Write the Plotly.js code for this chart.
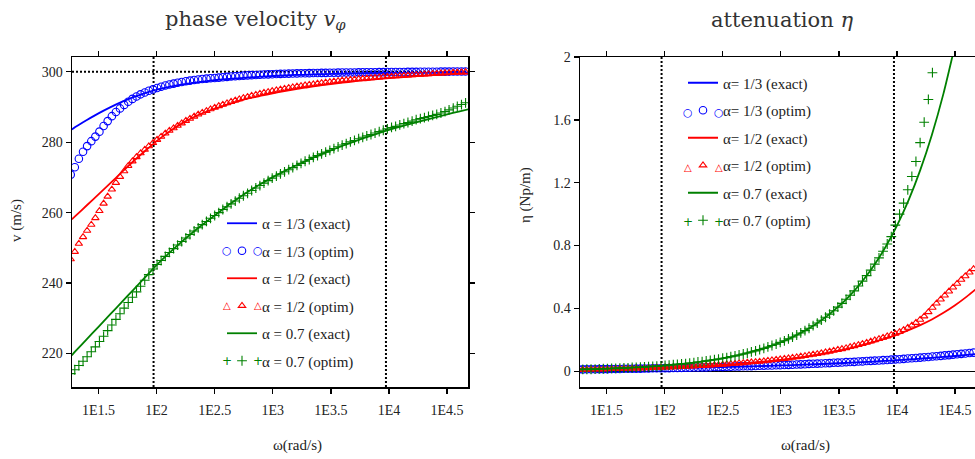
<!DOCTYPE html>
<html>
<head>
<meta charset="utf-8">
<script src="https://cdn.plot.ly/plotly-3.0.1.min.js"></script>
<style>
html, body { margin: 0; padding: 0; overflow: hidden; background: #fff; }
#chart { width: 985px; height: 459px; }
</style>
</head>
<body>
<div id="chart"></div>
<script>
// x positions are log10(omega) (axis labelled 1E1.5 ... 1E4.5)
const lineLogOmega = [1.27,1.3,1.4,1.5,1.6,1.7,1.8,1.9,2.0,2.1,2.2,2.3,2.4,2.5,2.6,2.7,2.8,2.9,3.0,3.1,3.2,3.3,3.4,3.5,3.6,3.7,3.8,3.9,4.0,4.1,4.2,4.3,4.4,4.5,4.6,4.7];
const markerLogOmega = [1.261,1.296,1.331,1.367,1.402,1.438,1.473,1.508,1.544,1.579,
  1.615,1.650,1.685,1.721,1.756,1.792,1.827,1.862,1.898,1.933,
  1.969,2.004,2.039,2.075,2.110,2.146,2.181,2.216,2.252,2.287,
  2.323,2.358,2.393,2.429,2.464,2.500,2.535,2.570,2.606,2.641,
  2.677,2.712,2.747,2.783,2.818,2.854,2.889,2.924,2.960,2.995,
  3.031,3.066,3.101,3.137,3.172,3.208,3.243,3.278,3.314,3.349,
  3.385,3.420,3.455,3.491,3.526,3.562,3.597,3.632,3.668,3.703,
  3.739,3.774,3.809,3.845,3.880,3.916,3.951,3.986,4.022,4.057,
  4.093,4.128,4.163,4.199,4.234,4.270,4.305,4.340,4.376,4.411,
  4.447,4.482,4.517,4.553,4.588,4.624,4.659];

// phase velocity (m/s)
const vExact13 = [283.6,284.3,286.3,288.2,289.9,291.45,292.8,293.95,294.9,295.65,296.3,296.8,297.2,297.6,297.9,298.15,298.4,298.6,298.8,298.95,299.1,299.2,299.3,299.4,299.48,299.54,299.6,299.64,299.68,299.72,299.75,299.78,299.8,299.82,299.84,299.86];
const vExact12 = [258.1,259.0,262.1,265.2,268.3,271.5,274.6,277.5,280.3,282.8,285.0,286.8,288.3,289.5,290.6,291.6,292.5,293.2,293.9,294.5,295.1,295.6,296.1,296.5,296.9,297.3,297.6,297.9,298.2,298.45,298.7,298.9,299.1,299.25,299.4,299.5];
const vExact07 = [219.5,220.6,224.1,227.6,231.1,234.6,238.1,241.6,245.1,248.3,251.3,254.1,256.7,259.2,261.7,264.0,266.2,268.2,270.1,271.8,273.4,274.9,276.35,277.7,279.0,280.2,281.35,282.45,283.5,284.45,285.35,286.2,287.05,287.9,288.7,289.5];
const vOptim13 = [270.8,272.9,275.3,277.3,278.9,280.3,281.6,283.0,284.6,286.0,
  287.4,288.6,289.6,290.6,291.5,292.3,293.0,293.6,294.1,294.6,
  295.0,295.4,295.75,296.1,296.4,296.65,296.9,297.1,297.3,297.5,
  297.65,297.8,297.95,298.05,298.15,298.25,298.35,298.45,298.55,298.65,
  298.75,298.82,298.9,298.97,299.04,299.1,299.16,299.22,299.27,299.32,
  299.36,299.4,299.44,299.48,299.51,299.54,299.57,299.6,299.62,299.64,
  299.66,299.68,299.7,299.72,299.74,299.76,299.78,299.8,299.81,299.82,
  299.84,299.85,299.86,299.88,299.89,299.9,299.91,299.92,299.93,299.94,
  299.95,299.96,299.97,299.98,299.99,300.0,300.0,300.01,300.02,300.03,
  300.04,300.05,300.06,300.07,300.08,300.09,300.1];
const vOptim12 = [246.8,248.9,251.2,253.1,254.9,256.6,258.5,260.5,262.6,264.6,
  266.6,268.5,270.2,271.8,273.3,274.6,275.8,276.9,277.9,278.9,
  279.8,280.7,281.6,282.5,283.3,284.0,284.7,285.4,286.1,286.7,
  287.3,287.9,288.4,288.9,289.4,289.85,290.3,290.7,291.1,291.5,
  291.9,292.25,292.6,292.9,293.2,293.5,293.8,294.05,294.3,294.55,
  294.8,295.0,295.2,295.45,295.65,295.85,296.0,296.2,296.35,296.5,
  296.7,296.85,297.0,297.15,297.3,297.4,297.55,297.65,297.75,297.85,
  297.95,298.05,298.15,298.25,298.35,298.45,298.55,298.6,298.7,298.75,
  298.85,298.9,299.0,299.05,299.15,299.2,299.3,299.35,299.45,299.5,
  299.6,299.65,299.7,299.8,299.85,299.9,299.95];
const vOptim07 = [214.3,215.4,216.6,217.8,219.1,220.5,221.9,223.4,224.9,226.5,
  228.1,229.7,231.3,232.9,234.5,236.0,237.5,239.1,240.8,242.4,
  244.0,245.3,246.4,247.6,248.7,249.8,250.8,251.8,252.8,253.8,
  254.8,255.7,256.6,257.5,258.4,259.2,260.0,260.9,261.7,262.5,
  263.3,264.1,264.8,265.5,266.3,267.0,267.7,268.4,269.1,269.8,
  270.4,271.0,271.6,272.2,272.8,273.4,274.0,274.6,275.1,275.7,
  276.2,276.7,277.2,277.7,278.2,278.7,279.2,279.6,280.1,280.5,
  281.0,281.4,281.8,282.2,282.6,283.0,283.4,283.8,284.2,284.5,
  284.9,285.3,285.6,286.0,286.4,286.7,287.0,287.3,287.6,287.9,
  288.3,288.7,289.2,289.7,290.2,290.7,291.2];

// attenuation (Np/m)
const etaExact13 = [0.0121,0.0124,0.0132,0.0141,0.0150,0.0160,0.0171,0.0182,0.0194,0.0207,0.0221,0.0236,0.0251,0.0268,0.0286,0.0305,0.0325,0.0347,0.0370,0.0395,0.0421,0.0449,0.0479,0.0511,0.0545,0.0581,0.0620,0.0661,0.0705,0.0752,0.0802,0.0855,0.0912,0.0973,0.1038,0.1107];
const etaExact12 = [0.0100,0.0105,0.0120,0.0135,0.0150,0.0170,0.0190,0.0210,0.0235,0.0260,0.0290,0.0330,0.0370,0.0410,0.0460,0.0520,0.0580,0.0650,0.0730,0.0820,0.0920,0.1040,0.1170,0.1320,0.1480,0.1660,0.1860,0.2080,0.2330,0.2620,0.2940,0.3300,0.3720,0.4200,0.4750,0.5350];
const etaExact07 = [0.0114,0.0119,0.0140,0.0165,0.0194,0.0228,0.0267,0.0314,0.0369,0.0434,0.0509,0.0599,0.0703,0.0826,0.0971,0.1141,0.1340,0.1575,0.1850,0.2174,0.2554,0.3000,0.3525,0.4142,0.4866,0.5717,0.6717,0.7892,0.9272,1.089,1.280,1.504,1.767,2.076,null,null];
const etaOptim13 = [0.012,0.012,0.013,0.013,0.013,0.014,0.014,0.014,0.015,0.015,
  0.015,0.016,0.016,0.016,0.017,0.017,0.018,0.018,0.019,0.019,
  0.019,0.020,0.020,0.021,0.021,0.022,0.023,0.023,0.024,0.024,
  0.025,0.025,0.026,0.027,0.027,0.028,0.029,0.029,0.030,0.031,
  0.032,0.032,0.033,0.034,0.035,0.036,0.037,0.037,0.038,0.039,
  0.040,0.041,0.042,0.043,0.044,0.045,0.047,0.048,0.049,0.050,
  0.051,0.052,0.054,0.055,0.056,0.058,0.059,0.060,0.062,0.063,
  0.065,0.066,0.068,0.069,0.071,0.072,0.074,0.076,0.077,0.079,
  0.081,0.083,0.085,0.087,0.089,0.091,0.094,0.096,0.098,0.101,
  0.103,0.106,0.108,0.111,0.113,0.116,0.119];
const etaOptim12 = [0.010,0.011,0.011,0.012,0.012,0.013,0.013,0.014,0.015,0.015,
  0.016,0.016,0.017,0.018,0.019,0.019,0.020,0.021,0.022,0.023,
  0.024,0.025,0.026,0.027,0.027,0.029,0.030,0.031,0.032,0.034,
  0.035,0.037,0.038,0.040,0.041,0.043,0.045,0.047,0.049,0.051,
  0.053,0.056,0.058,0.060,0.062,0.065,0.068,0.071,0.074,0.077,
  0.080,0.083,0.087,0.090,0.094,0.098,0.103,0.107,0.111,0.116,
  0.121,0.126,0.132,0.137,0.142,0.148,0.155,0.161,0.168,0.175,
  0.182,0.190,0.198,0.206,0.214,0.223,0.232,0.240,0.251,0.264,
  0.278,0.292,0.309,0.329,0.350,0.377,0.405,0.432,0.458,0.483,
  0.509,0.534,0.558,0.583,0.606,0.629,0.651];
const etaOptim07 = [0.011,0.012,0.013,0.013,0.014,0.015,0.016,0.017,0.018,0.019,
  0.020,0.021,0.022,0.024,0.025,0.026,0.028,0.030,0.031,0.033,
  0.035,0.037,0.039,0.042,0.044,0.047,0.049,0.052,0.055,0.059,
  0.062,0.066,0.070,0.074,0.078,0.083,0.087,0.093,0.098,0.104,
  0.110,0.116,0.123,0.130,0.138,0.146,0.155,0.164,0.173,0.184,
  0.194,0.206,0.218,0.231,0.244,0.259,0.274,0.290,0.307,0.325,
  0.344,0.364,0.385,0.408,0.432,0.458,0.484,0.512,0.543,0.574,
  0.609,0.644,0.682,0.722,0.764,0.810,0.857,0.930,1.000,1.070,
  1.155,1.240,1.335,1.455,1.585,1.730,1.900,2.080,null,null,
  null,null,null,null,null,null,null];

// reference markers
const bandEdges = [1.974, 3.974];
const vLimit = 300;

const xTickVals = [1.5,2,2.5,3,3.5,4,4.5];
const xTickText = ['1E1.5','1E2','1E2.5','1E3','1E3.5','1E4','1E4.5'];
const vTickVals = [220,240,260,280,300];

const leftNames = ['α = 1/3 (exact)','α = 1/3 (optim)','α = 1/2 (exact)','α = 1/2 (optim)','α = 0.7 (exact)','α = 0.7 (optim)'];
const rightNames = ['α= 1/3 (exact)','α= 1/3 (optim)','α= 1/2 (exact)','α= 1/2 (optim)','α= 0.7 (exact)','α= 0.7 (optim)'];

const BLUE = '#0000ff', RED = '#ff0000', GREEN = '#008000';
const colors = [BLUE, BLUE, RED, RED, GREEN, GREEN];
const symbols = [null, 'circle-open', null, 'triangle-up-open', null, 'cross-thin-open'];
const msize = [0, 7.5, 0, 6.5, 0, 7];
const glyphs = [null, '○', null, '△', null, '+'];
const glyphSize = [0, 11, 0, 10, 0, 12];

const leftY = [vExact13, vOptim13, vExact12, vOptim12, vExact07, vOptim07];
const rightY = [etaExact13, etaOptim13, etaExact12, etaOptim12, etaExact07, etaOptim07];

function makeTraces(ys, names, xa, ya, leg, grp) {
  return ys.map((y, i) => {
    const isLine = symbols[i] === null;
    const t = {
      type: 'scatter',
      x: isLine ? lineLogOmega : markerLogOmega,
      y: y,
      name: names[i],
      xaxis: xa, yaxis: ya,
      legend: leg,
      legendgroup: grp + i,
      connectgaps: false,
      hoverinfo: 'skip'
    };
    if (isLine) {
      t.mode = 'lines';
      t.line = {color: colors[i], width: 1.8, shape: 'spline', smoothing: 0.6};
    } else {
      t.mode = 'markers';
      t.marker = {symbol: symbols[i], size: msize[i], color: colors[i],
                  line: {color: colors[i], width: 1.1}};
    }
    return t;
  });
}

const traces = makeTraces(leftY, leftNames, 'x', 'y', 'legend', 'L')
  .concat(makeTraces(rightY, rightNames, 'x2', 'y2', 'legend2', 'R'));

const tickFont = {family: 'Liberation Serif, Times New Roman, serif', size: 14, color: '#222'};
const axisCommon = {
  showgrid: false, zeroline: false, showline: true, linecolor: '#000', linewidth: 1.5,
  mirror: 'ticks', ticks: 'outside', ticklen: 5, tickwidth: 1.3, tickcolor: '#000',
  tickfont: tickFont, fixedrange: true
};

const W = 985, ML = 72, MR = 9, MT = 57, MB = 72, H = 459;
const PW = W - ML - MR, PH = H - MT - MB;
const px = v => (v - ML) / PW;
const py = v => (H - MB - v) / PH;

const legendFont = {family: 'Liberation Serif, Times New Roman, serif', size: 15, color: '#222'};
const titleFont = {family: 'DejaVu Serif, serif', size: 21, color: '#333'};
const labelFont = {family: 'Liberation Serif, Times New Roman, serif', size: 15, color: '#222'};

const dotted = {color: '#000', width: 2, dash: '2px,2px'};
const shapes = [];
bandEdges.forEach(b => {
  shapes.push({type: 'line', xref: 'x', yref: 'y domain', x0: b, x1: b, y0: 0, y1: 1, line: dotted, layer: 'below'});
  shapes.push({type: 'line', xref: 'x2', yref: 'y2 domain', x0: b, x1: b, y0: 0, y1: 1, line: dotted, layer: 'below'});
});
shapes.push({type: 'line', xref: 'x domain', yref: 'y', x0: 0, x1: 1, y0: vLimit, y1: vLimit, line: dotted, layer: 'below'});

const annotations = [
  {text: 'phase velocity <i>v</i><sub><i>φ</i></sub>', xref: 'paper', yref: 'paper', x: px(255), y: py(20), xanchor: 'center', yanchor: 'middle', showarrow: false, font: titleFont},
  {text: 'attenuation <i>η</i>', xref: 'paper', yref: 'paper', x: px(782), y: py(20), xanchor: 'center', yanchor: 'middle', showarrow: false, font: titleFont},
  {text: 'v (m/s)', xref: 'paper', yref: 'paper', x: px(16), y: py(221), xanchor: 'center', yanchor: 'middle', textangle: -90, showarrow: false, font: labelFont},
  {text: 'η (Np/m)', xref: 'paper', yref: 'paper', x: px(525), y: py(195), xanchor: 'center', yanchor: 'middle', textangle: -90, showarrow: false, font: labelFont},
  {text: 'ω(rad/s)', xref: 'paper', yref: 'paper', x: px(297), y: py(445), xanchor: 'center', yanchor: 'middle', showarrow: false, font: labelFont},
  {text: 'ω(rad/s)', xref: 'paper', yref: 'paper', x: px(805), y: py(445), xanchor: 'center', yanchor: 'middle', showarrow: false, font: labelFont}
];

// legend sample: reference shows three marker glyphs per "optim" entry; the legend draws the
// middle one, the outer two are added as text glyphs beside it
const legendRows = {left: {top: 223, x: 242}, right: {top: 84.5, x: 703}};
const rowGap = 27.6;
[legendRows.left, legendRows.right].forEach(L => {
  glyphs.forEach((g, i) => {
    if (!g) return;
    const yy = L.top + i * rowGap;
    [-15.5, 15.5].forEach(dx => {
      annotations.push({text: g, xref: 'paper', yref: 'paper', x: px(L.x + dx), y: py(yy),
        xanchor: 'center', yanchor: 'middle', showarrow: false,
        font: {family: 'DejaVu Sans, sans-serif', size: glyphSize[i], color: colors[i]}});
    });
  });
});

const layout = {
  width: W, height: H,
  margin: {l: ML, r: MR, t: MT, b: MB, pad: 0},
  paper_bgcolor: '#fff', plot_bgcolor: '#fff',
  showlegend: true,
  xaxis: Object.assign({}, axisCommon, {domain: [0, px(468)], range: [1.272, 4.68], tickmode: 'array', tickvals: xTickVals, ticktext: xTickText, anchor: 'y', ticklabelstandoff: 5}),
  yaxis: Object.assign({}, axisCommon, {domain: [0, 1], range: [210.5, 304.2], tickmode: 'array', tickvals: vTickVals, anchor: 'x'}),
  xaxis2: Object.assign({}, axisCommon, {domain: [px(580), 1], range: [1.272, 4.68], tickmode: 'array', tickvals: xTickVals, ticktext: xTickText, anchor: 'y2', ticklabelstandoff: 5}),
  yaxis2: Object.assign({}, axisCommon, {domain: [0, 1], range: [-0.1, 2.0], tick0: 0, dtick: 0.4, anchor: 'x2', zeroline: true, zerolinecolor: '#000', zerolinewidth: 1.5}),
  legend: {x: px(222), y: py(207), xanchor: 'left', yanchor: 'top', bgcolor: 'rgba(0,0,0,0)', borderwidth: 0,
           font: legendFont, traceorder: 'grouped', tracegroupgap: 5, itemwidth: 30},
  legend2: {x: px(683), y: py(66.5), xanchor: 'left', yanchor: 'top', bgcolor: 'rgba(0,0,0,0)', borderwidth: 0,
            font: legendFont, traceorder: 'grouped', tracegroupgap: 5, itemwidth: 30},
  shapes: shapes,
  annotations: annotations
};

Plotly.newPlot('chart', traces, layout, {staticPlot: true, displayModeBar: false, responsive: false});
</script>
</body>
</html>
